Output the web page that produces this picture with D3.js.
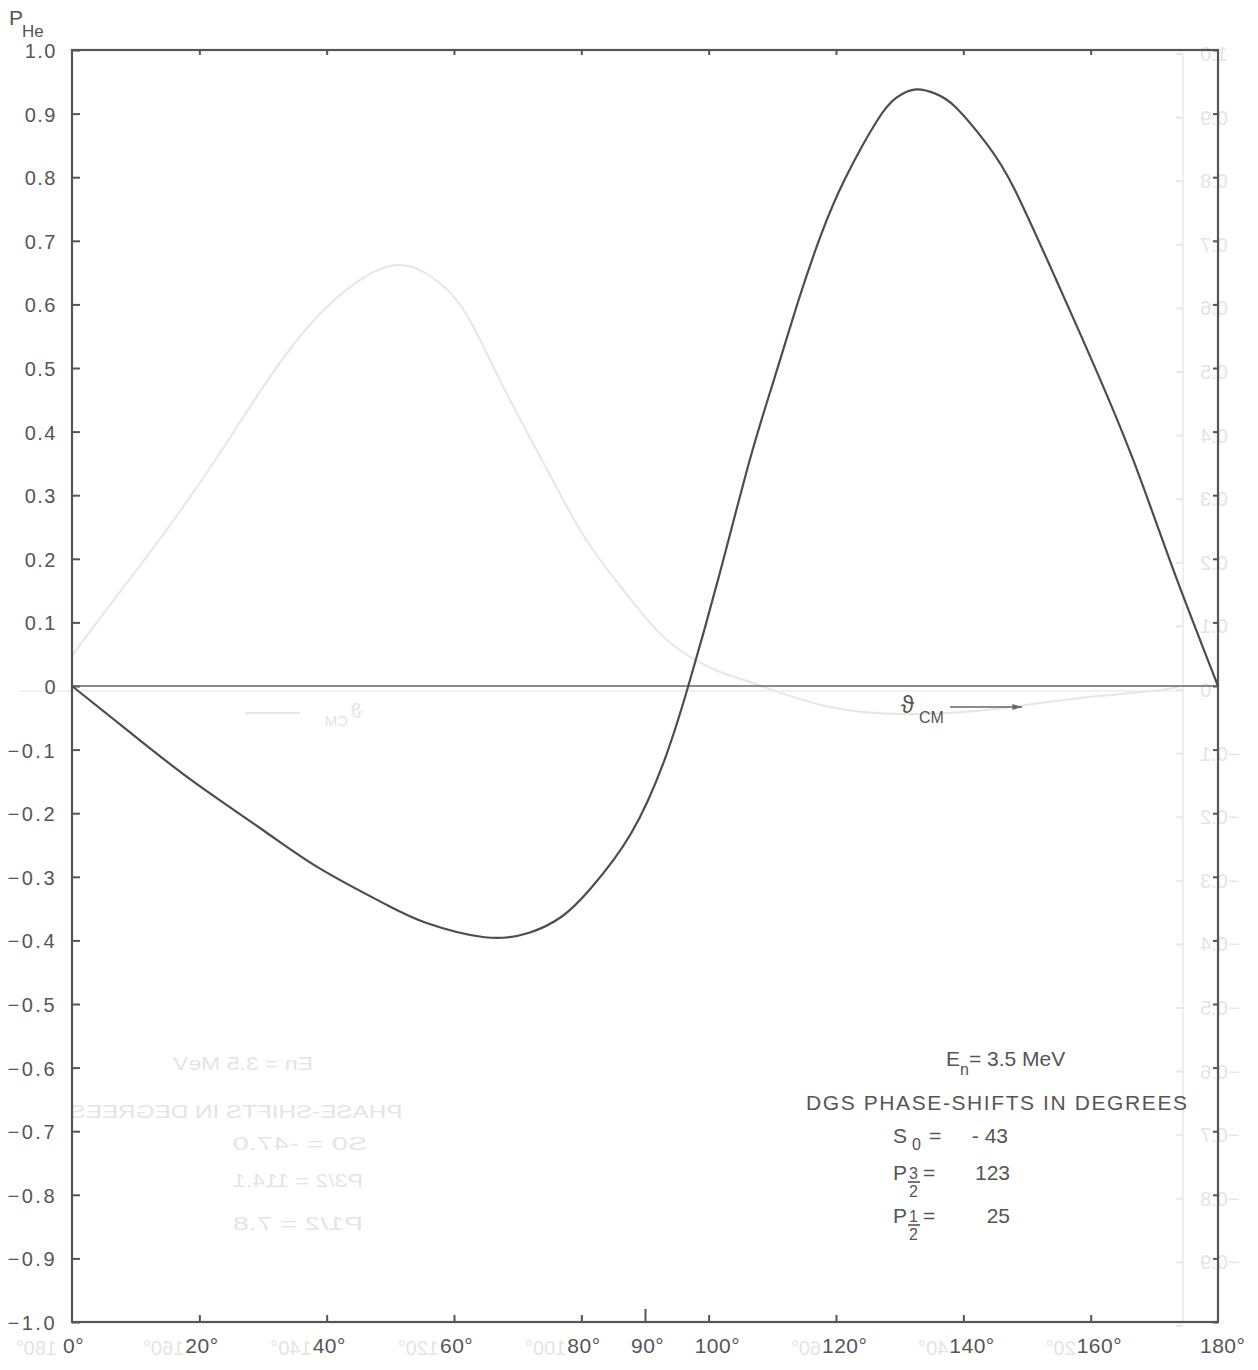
<!DOCTYPE html>
<meta charset="utf-8">
<head>
<style>
  body { margin: 0; background: #fff; }
  svg text { font-family: "Liberation Sans", Arial, sans-serif; fill: #555; }
  .axis path { display: none; }
  .axis line { stroke: #555; stroke-width: 2px; }
  .ghost text { fill: #e4e4e4; }
</style>
</head>
<body>
<svg width="1258" height="1370"></svg>
<script src="https://d3js.org/d3.v7.min.js"></script>
<script>
// P_He polarisation vs theta_CM
var angles = [0, 10, 19.3, 30.2, 39.1, 49.4, 55.8, 64.8, 71.8, 77.0, 81.5, 87.8, 93.0, 96.8,
              101.6, 106.5, 110.3, 114.0, 117.6, 121.4, 126.4, 129.5, 132.6, 135.7, 138.8,
              143.7, 148.1, 154.3, 160.5, 166.7, 172.9, 180];
var pHe = [0, -0.08, -0.152, -0.228, -0.288, -0.344, -0.373, -0.395, -0.388, -0.362, -0.318,
           -0.232, -0.118, 0, 0.172, 0.357, 0.483, 0.603, 0.708, 0.797, 0.888, 0.925, 0.938,
           0.931, 0.910, 0.852, 0.78, 0.645, 0.505, 0.355, 0.185, 0];

// faint curve showing through from the back of the page (page coordinates)
var ghostAngles = [0, 6.7, 14.6, 22.6, 29.8, 36.4, 43.0, 50.3, 56.2, 61.6, 67.5, 74.1, 80.7,
                   87.3, 94.2, 101.8, 106.6, 119, 132.6, 145, 157.4, 169.8, 174];
var ghostVals = [0.048, 0.137, 0.242, 0.357, 0.467, 0.557, 0.622, 0.661, 0.645, 0.59, 0.475,
                 0.35, 0.231, 0.142, 0.066, 0.022, 0.006, -0.033, -0.044, -0.036, -0.02, -0.008, 0];

var xTicks = [0, 20, 40, 60, 80, 90, 100, 120, 140, 160, 180];
var ghostXTicks = [20, 40, 60, 100, 120, 140, 160, 180];
var yTicks = d3.range(-10, 11).map(function(i) { return i / 10; });

var svg = d3.select("svg");

var x = d3.scaleLinear().domain([0, 180]).range([72, 1218]);
var y = d3.scaleLinear().domain([-1, 1]).range([1322, 50]);
var gx = d3.scaleLinear().domain([0, 180]).range([1183, 37]);   // mirrored back page

function fmtY(d) {
  if (Math.abs(d) < 1e-9) return "0";
  return (d < 0 ? "\u2212" : "") + Math.abs(d).toFixed(1);
}

// ---------- ghost (back side of the sheet) ----------
var ghost = svg.append("g").attr("class", "ghost");

ghost.append("line")
    .attr("x1", 1183).attr("x2", 1183).attr("y1", 55).attr("y2", 1322)
    .attr("stroke", "#eeeeee").attr("stroke-width", 2);
ghost.append("line")
    .attr("x1", 20).attr("x2", 1183).attr("y1", y(0) + 5).attr("y2", y(0) + 5)
    .attr("stroke", "#ececec").attr("stroke-width", 1.5);
ghost.selectAll(".gtick").data(yTicks).enter().append("line")
    .attr("x1", 1176).attr("x2", 1183)
    .attr("y1", function(d) { return y(d) + 4; }).attr("y2", function(d) { return y(d) + 4; })
    .attr("stroke", "#e8e8e8").attr("stroke-width", 2);

ghost.append("path")
    .datum(d3.zip(ghostAngles, ghostVals))
    .attr("fill", "none")
    .attr("stroke", "#e6e6e6")
    .attr("stroke-width", 2)
    .attr("d", d3.line()
        .x(function(d) { return x(d[0]); })
        .y(function(d) { return y(d[1]); })
        .curve(d3.curveNatural));

ghost.selectAll(".gylab").data(yTicks.filter(function(d) { return d > -0.95; })).enter().append("g")
    .attr("transform", function(d) { return "translate(1200," + (y(d) + 11) + ") scale(-1,1)"; })
  .append("text")
    .attr("text-anchor", "end")
    .attr("font-size", 20)
    .text(fmtY);

ghost.selectAll(".gxlab").data(ghostXTicks).enter().append("g")
    .attr("transform", function(d) { return "translate(" + (gx(d) + 20) + ",1355) scale(-1,1)"; })
  .append("text")
    .attr("font-size", 20)
    .text(function(d) { return d + "°"; });

var ghostLegend = [
  {t: "En = 3.5 MeV", cx: 243, y: 1070, w: 140},
  {t: "PHASE-SHIFTS  IN DEGREES", cx: 236, y: 1118, w: 333},
  {t: "S0 =  -47.0", cx: 300, y: 1150, w: 135},
  {t: "P3/2 =  114.1", cx: 298, y: 1187, w: 130},
  {t: "P1/2 =    7.8", cx: 298, y: 1230, w: 130}
];
ghost.selectAll(".gleg").data(ghostLegend).enter().append("g")
    .attr("transform", function(d) { return "translate(" + d.cx + "," + d.y + ") scale(-1,1)"; })
  .append("text")
    .attr("text-anchor", "middle")
    .attr("font-size", 19)
    .attr("textLength", function(d) { return d.w; })
    .attr("lengthAdjust", "spacingAndGlyphs")
    .text(function(d) { return d.t; });

var gcm = ghost.append("g").attr("transform", "translate(300,718) scale(-1,1)");
gcm.append("text").attr("x", -62).attr("y", 0).attr("font-size", 20).text("ϑ");
gcm.append("text").attr("x", -48).attr("y", 8).attr("font-size", 15).text("CM");
ghost.append("line").attr("x1", 245).attr("x2", 300).attr("y1", 713).attr("y2", 713)
    .attr("stroke", "#e8e8e8").attr("stroke-width", 2);

// ---------- frame and axes ----------
svg.append("rect")
    .attr("x", x(0)).attr("y", y(1))
    .attr("width", x(180) - x(0)).attr("height", y(-1) - y(1))
    .attr("fill", "none").attr("stroke", "#555").attr("stroke-width", 2.2);

// left: inward ticks + labels
svg.append("g").attr("class", "axis")
    .attr("transform", "translate(" + x(0) + ",0)")
    .call(d3.axisLeft(y).tickValues(yTicks).tickSize(-8).tickFormat(""));
svg.selectAll(".ylab").data(yTicks).enter().append("text")
    .attr("class", "ylab")
    .attr("x", 57)
    .attr("y", function(d) { return y(d) + 8; })
    .attr("text-anchor", "end")
    .attr("font-size", 20)
    .attr("letter-spacing", function(d) { return d < 0 ? 2.5 : 1.5; })
    .text(fmtY);

// right: inward ticks
svg.append("g").attr("class", "axis")
    .attr("transform", "translate(" + x(180) + ",0)")
    .call(d3.axisLeft(y).tickValues(yTicks).tickSize(5).tickFormat(""));

// top: inward ticks
svg.append("g").attr("class", "axis")
    .attr("transform", "translate(0," + y(1) + ")")
    .call(d3.axisBottom(x).tickValues(d3.range(20, 180, 20)).tickSize(5).tickFormat(""));

// bottom: inward ticks, long one at 90°
svg.append("g").attr("class", "axis")
    .attr("transform", "translate(0," + y(-1) + ")")
    .call(d3.axisTop(x).tickValues(d3.range(20, 180, 20)).tickSize(7).tickFormat(""));
svg.append("g").attr("class", "axis")
    .attr("transform", "translate(0," + y(-1) + ")")
    .call(d3.axisTop(x).tickValues([90]).tickSize(13).tickFormat(""));

svg.selectAll(".xlab").data(xTicks).enter().append("text")
    .attr("class", "xlab")
    .attr("x", function(d) { return x(d) - (d === 0 ? 9 : d === 180 ? 18 : 14); })
    .attr("y", 1353)
    .attr("font-size", 21)
    .attr("letter-spacing", 0.5)
    .text(function(d) { return d + "°"; });

// y title P_He
var yt = svg.append("text").attr("x", 9).attr("y", 25).attr("font-size", 21);
yt.append("tspan").text("P");
yt.append("tspan").attr("x", 22).attr("y", 37).attr("font-size", 17).text("He");

// zero line
svg.append("line")
    .attr("x1", x(0)).attr("x2", x(180)).attr("y1", y(0)).attr("y2", y(0))
    .attr("stroke", "#666").attr("stroke-width", 1.6);

// ---------- curve ----------
svg.append("path")
    .datum(d3.zip(angles, pHe))
    .attr("fill", "none")
    .attr("stroke", "#4d4d4d")
    .attr("stroke-width", 2.2)
    .attr("d", d3.line()
        .x(function(d) { return x(d[0]); })
        .y(function(d) { return y(d[1]); })
        .curve(d3.curveNatural));

// theta_CM arrow
svg.append("defs").append("marker")
    .attr("id", "arr").attr("viewBox", "0 0 10 10").attr("refX", 10).attr("refY", 5)
    .attr("markerWidth", 8).attr("markerHeight", 6).attr("orient", "auto")
  .append("path").attr("d", "M0,2 L10,5 L0,8 Z").attr("fill", "#666");
svg.append("text").attr("x", 901).attr("y", 713).attr("font-size", 24).text("ϑ");
svg.append("text").attr("x", 919).attr("y", 723).attr("font-size", 16).text("CM");
svg.append("line")
    .attr("x1", 950).attr("x2", 1022).attr("y1", 707).attr("y2", 707)
    .attr("stroke", "#666").attr("stroke-width", 1.6)
    .attr("marker-end", "url(#arr)");

// ---------- legend ----------
var leg = svg.append("g").attr("font-size", 21);
var e = leg.append("text").attr("x", 946).attr("y", 1066).attr("font-size", 21);
e.append("tspan").text("E");
e.append("tspan").attr("dy", 9).attr("font-size", 16).text("n");
e.append("tspan").attr("dy", -9).text("= 3.5 MeV");

leg.append("text").attr("x", 806).attr("y", 1110).attr("font-size", 21)
    .attr("textLength", 381).attr("lengthAdjust", "spacing")
    .text("DGS PHASE-SHIFTS  IN DEGREES");

// S0 row
leg.append("text").attr("x", 893).attr("y", 1143).attr("font-size", 21).text("S");
leg.append("text").attr("x", 912).attr("y", 1150).attr("font-size", 16).text("0");
leg.append("text").attr("x", 929).attr("y", 1143).attr("font-size", 21).text("=");
leg.append("text").attr("x", 1008).attr("y", 1143).attr("font-size", 21)
    .attr("text-anchor", "end").text("- 43");

// P3/2 and P1/2 rows
[{num: "3", base: 1180, val: "123"}, {num: "1", base: 1223, val: "25"}].forEach(function(r) {
  leg.append("text").attr("x", 893).attr("y", r.base).attr("font-size", 21).text("P");
  leg.append("text").attr("x", 909).attr("y", r.base - 1).attr("font-size", 16).text(r.num);
  leg.append("line").attr("x1", 908).attr("x2", 920)
      .attr("y1", r.base + 2).attr("y2", r.base + 2)
      .attr("stroke", "#555").attr("stroke-width", 1.6);
  leg.append("text").attr("x", 909).attr("y", r.base + 17).attr("font-size", 16).text("2");
  leg.append("text").attr("x", 923).attr("y", r.base).attr("font-size", 21).text("=");
  leg.append("text").attr("x", 1010).attr("y", r.base).attr("font-size", 21)
      .attr("text-anchor", "end").text(r.val);
});
</script>
</body>
